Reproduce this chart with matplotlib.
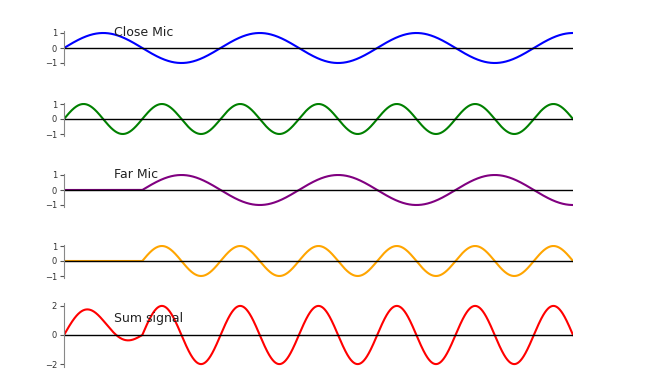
import numpy as np
import matplotlib
matplotlib.use('Agg')
import matplotlib.pyplot as plt

# Signal parameters (x axis in cycles of the close mic tone).
# NOTE: the curves are pure sine waves, so they are computed with np.sin from
# these read-off frequencies / delay instead of hand-typed sample points.
duration = 3.25        # length shown, in periods of the low tone
low_freq = 1.0         # close / far mic low tone
high_freq = 2.0        # second tone, twice the low one
delay = 0.5            # far mic arrives half a period later
n_points = 2000

labels = ['Close Mic', None, 'Far Mic', None, 'Sum signal']
colors = ['blue', 'green', 'purple', 'orange', 'red']
yticks = [[-1, 0, 1], [-1, 0, 1], [-1, 0, 1], [-1, 0, 1], [-2, 0, 2]]

t = np.linspace(0, duration, n_points)
close_low = np.sin(2 * np.pi * low_freq * t)
close_high = np.sin(2 * np.pi * high_freq * t)
far_low = np.where(t >= delay, np.sin(2 * np.pi * low_freq * (t - delay)), 0)
far_high = np.where(t >= delay, np.sin(2 * np.pi * high_freq * (t - delay)), 0)
total = close_low + close_high + far_low + far_high
signals = [close_low, close_high, far_low, far_high, total]

W, H = 645, 387
fig = plt.figure(figsize=(W / 100, H / 100), dpi=100)

# axes boxes in pixels: (top, height)
boxes = [(31.5, 33), (102.5, 33), (173.5, 33), (244.5, 33), (303, 64)]
left, width = 64, 509
# label baselines in pixels
label_pos = [(114, 35.5), None, (114, 177.5), None, (114, 322)]

for i, (sig, col) in enumerate(zip(signals, colors)):
    top, h = boxes[i]
    ax = fig.add_axes([left / W, 1 - (top + h) / H, width / W, h / H])
    ax.plot(t, sig, color=col, lw=1.5)
    ax.axhline(0, color='black', lw=1)
    ax.set_xlim(0, duration)
    lim = max(yticks[i]) * 1.1
    ax.set_ylim(-lim, lim)
    ax.set_yticks(yticks[i])
    ax.set_xticks([])
    for s in ['top', 'right', 'bottom']:
        ax.spines[s].set_visible(False)
    ax.spines['left'].set_color('#888888')
    ax.spines['left'].set_linewidth(0.8)
    ax.tick_params(axis='y', labelsize=6, length=3, width=0.8,
                   color='#555555', labelcolor='#333333', pad=2)
    if labels[i]:
        x, y = label_pos[i]
        fig.text(x / W, 1 - y / H, labels[i], fontsize=9,
                 va='baseline', color='#222222')

fig.savefig('out.png', dpi=100)
